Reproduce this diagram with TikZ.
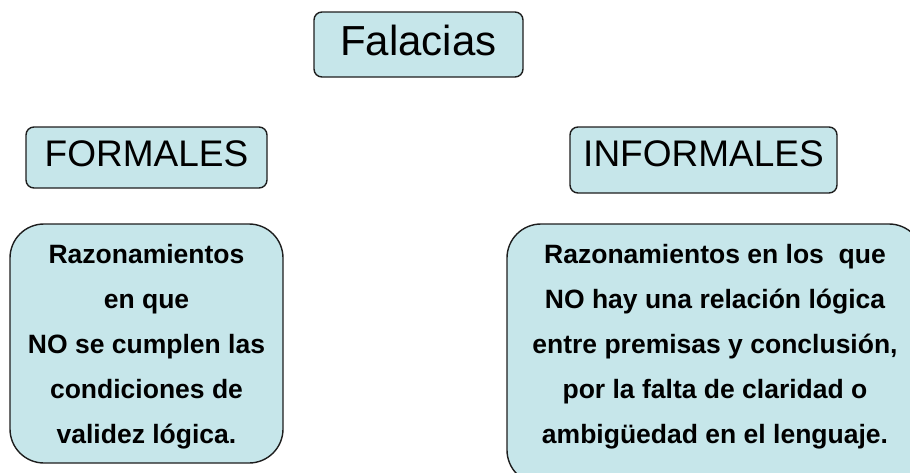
\documentclass[tikz,border=0pt]{standalone}
\usepackage{fontspec}
\setmainfont{Liberation Sans}
\definecolor{boxfill}{RGB}{198,230,234}
\definecolor{boxline}{RGB}{30,30,30}
\tikzset{
  smallbox/.style={draw=boxline, line width=1.4pt, fill=boxfill, rounded corners=8pt, inner sep=0pt},
  bigbox/.style={draw=boxline, line width=1.4pt, fill=boxfill, rounded corners=34pt, inner sep=0pt},
  bodytext/.style={align=center, inner sep=0pt, font=\fontsize{26.5}{45}\selectfont\bfseries},
}
\begin{document}
\begin{tikzpicture}[x=1pt,y=-1pt]
\useasboundingbox (0,0) rectangle (910,472);
\clip (0,0) rectangle (910,472);
% title
\node[smallbox, minimum width=209pt, minimum height=65pt, text depth=8pt, font=\fontsize{42}{48}\selectfont] (fal) at (418.5,44.5) {Falacias};
% categories
\node[smallbox, minimum width=241pt, minimum height=61pt, text depth=7pt, font=\fontsize{37}{44}\selectfont] (form) at (146.5,157.5) {FORMALES};
\node[smallbox, minimum width=267pt, minimum height=66pt, text depth=12pt, font=\fontsize{37}{44}\selectfont] (inform) at (703.5,160) {INFORMALES};
% big boxes
\node[bigbox, minimum width=273pt, minimum height=239pt] (lbox) at (146.5,343.5) {};
\node[bigbox, minimum width=416pt, minimum height=260pt] (rbox) at (715,354) {};
\node[bodytext] (ltxt) at (146.5,346.5) {Razonamientos\\en que\\NO se cumplen las\\condiciones de\\validez lógica.};
\node[bodytext] (rtxt) at (715,346.5) {Razonamientos en los~ que\\NO hay una relación lógica\\entre premisas y conclusión,\\por la falta de claridad o\\ambigüedad en el lenguaje.};
\end{tikzpicture}
\end{document}
